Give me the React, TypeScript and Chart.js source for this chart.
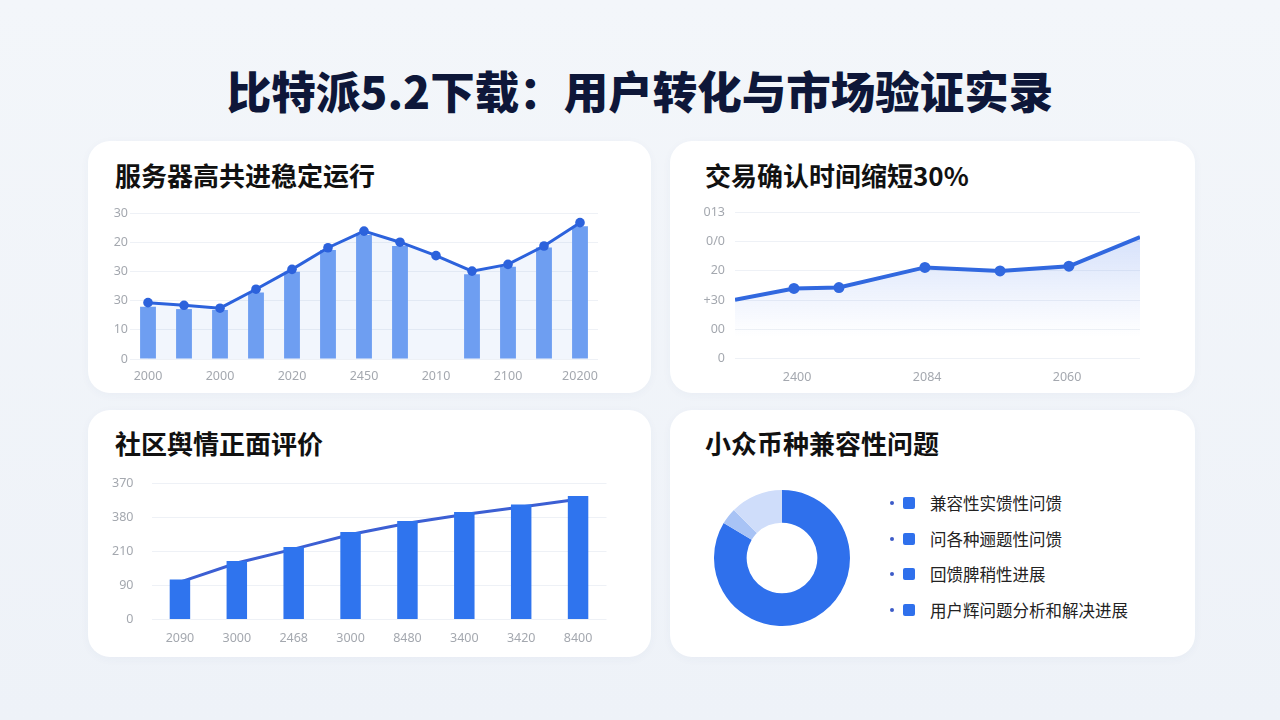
import React, { useEffect, useRef } from "react";
import { Chart, registerables } from "chart.js";

Chart.register(...registerables);

// ---------- Data ----------
const pageTitle = "比特派5.2下载：用户转化与市场验证实录";

// Panel 1
const serverTitle = "服务器高共进稳定运行";
const serverCategories = ["2000", "", "2000", "", "2020", "", "2450", "", "2010", "", "2100", "", "20200"];
const serverBars = [17.9, 17.1, 16.8, 22.8, 29.9, 37.3, 42.5, 38.7, null, 29.0, 31.6, 38.2, 45.5];
const serverLine = [19.3, 18.4, 17.4, 23.9, 30.7, 38.1, 43.8, 40.0, 35.4, 30.1, 32.4, 38.7, 46.7];
const serverYTickLabels = ["0", "10", "30", "30", "20", "30"];

// Panel 2
const confirmTitle = "交易确认时间缩短30%";
const confirmX = [0, 1.31, 2.31, 4.22, 5.89, 7.42, 9];
const confirmY = [20.1, 24.0, 24.3, 31.2, 30.0, 31.6, 41.6];
const confirmMarkers = [0, 5.5, 5.5, 5.5, 5.5, 5.5, 0];
const confirmXTickValues = [1.38, 4.27, 7.38];
const confirmXTickLabels = ["2400", "2084", "2060"];
const confirmYTickLabels = ["0", "00", "+30", "20", "0/0", "013"];

// Panel 3
const sentimentTitle = "社区舆情正面评价";
const sentimentCategories = ["2090", "3000", "2468", "3000", "8480", "3400", "3420", "8400"];
const sentimentBars = [117.6, 172.4, 213.5, 257.6, 290, 316.5, 338.2, 363.5];
const sentimentLine = [110, 166, 207, 250, 283, 309, 331, 354];
const sentimentYTickLabels = ["0", "90", "210", "380", "370"];

// Panel 4
const compatTitle = "小众币种兼容性问题";
const compatLabels = ["兼容性实馈性问馈", "问各种逦题性问馈", "回馈脾稍性进展", "用户辉问题分析和解决进展"];
const compatValues = [83.6, 3.9, 12.5, 0];
const compatColors = ["#2f70ec", "#a8c3f5", "#cfddfa", "#2f70ec"];

// ---------- Styles ----------
const CJK = "'Noto Sans CJK SC', 'Noto Sans', sans-serif";
const tickFont = { family: "'Noto Sans', 'DejaVu Sans', sans-serif", size: 12.5 };
const tickColor = "#a4a8af";
const gridColor = "#eef1f6";

function ChartBox({ style, config }: { style: React.CSSProperties; config: () => any }) {
  const ref = useRef<HTMLCanvasElement>(null);
  useEffect(() => {
    const chart = new Chart(ref.current as HTMLCanvasElement, config());
    return () => chart.destroy();
  }, []);
  return (
    <div style={{ position: "absolute", ...style }}>
      <canvas ref={ref} />
    </div>
  );
}

const baseOptions = (padding: any) => ({
  animation: false,
  responsive: true,
  maintainAspectRatio: false,
  layout: { padding },
  plugins: {
    legend: { display: false },
    tooltip: { enabled: false },
    filler: { drawTime: "beforeDatasetsDraw" },
  },
});

const serverConfig = () => ({
  type: "bar",
  data: {
    labels: serverCategories,
    datasets: [
      {
        type: "line",
        data: serverLine,
        borderColor: "#2c62dc",
        borderWidth: 3,
        pointRadius: 4.8,
        pointBackgroundColor: "#2c62dc",
        pointBorderWidth: 0,
        fill: "origin",
        backgroundColor: "rgba(90,140,235,0.08)",
        tension: 0,
        order: 0,
      },
      {
        type: "bar",
        data: serverBars,
        backgroundColor: "#6e9ef1",
        barPercentage: 1,
        categoryPercentage: 0.44,
        order: 1,
      },
    ],
  },
  options: {
    ...baseOptions({ top: 13, right: 52, left: 0, bottom: 0 }),
    scales: {
      x: {
        grid: { display: false },
        border: { display: false },
        ticks: { color: tickColor, font: tickFont, padding: 2, maxRotation: 0, autoSkip: false },
        afterFit: (s: any) => { s.height = 30; },
      },
      y: {
        min: 0,
        max: 50,
        ticks: {
          stepSize: 10,
          color: tickColor,
          font: tickFont,
          padding: 2,
          callback: (v: number) => serverYTickLabels[Math.round(v / 10)],
        },
        grid: { color: gridColor, drawTicks: false },
        border: { display: false },
        afterFit: (s: any) => { s.width = 42; },
      },
    },
  },
});

const confirmConfig = () => ({
  type: "line",
  data: {
    datasets: [
      {
        data: confirmX.map((x, i) => ({ x, y: confirmY[i] })),
        borderColor: "#3168df",
        borderWidth: 4,
        pointRadius: confirmMarkers,
        pointBackgroundColor: "#3168df",
        pointBorderWidth: 0,
        tension: 0,
        fill: "origin",
        backgroundColor: (ctx: any) => {
          const chart = ctx.chart;
          const area = chart.chartArea;
          if (!area) return "rgba(70,120,235,0.15)";
          const g = chart.ctx.createLinearGradient(0, area.top, 0, area.bottom);
          g.addColorStop(0, "rgba(70,120,235,0.28)");
          g.addColorStop(0.55, "rgba(70,120,235,0.09)");
          g.addColorStop(0.85, "rgba(70,120,235,0)");
          return g;
        },
      },
    ],
  },
  options: {
    ...baseOptions({ top: 0, right: 55, left: 0, bottom: 0 }),
    scales: {
      x: {
        type: "linear",
        min: 0,
        max: 9,
        grid: { display: false },
        border: { display: false },
        afterBuildTicks: (s: any) => { s.ticks = confirmXTickValues.map((v) => ({ value: v })); },
        ticks: {
          color: tickColor,
          font: tickFont,
          padding: 3,
          maxRotation: 0,
          autoSkip: false,
          callback: (_v: number, i: number) => confirmXTickLabels[i],
        },
        afterFit: (s: any) => { s.height = 30; },
      },
      y: {
        min: 0,
        max: 50,
        ticks: {
          stepSize: 10,
          color: tickColor,
          font: tickFont,
          padding: 10,
          callback: (v: number) => confirmYTickLabels[Math.round(v / 10)],
        },
        grid: { color: gridColor, drawTicks: false },
        border: { display: false },
        afterFit: (s: any) => { s.width = 65; },
      },
    },
  },
});

const sentimentConfig = () => ({
  type: "bar",
  data: {
    labels: sentimentCategories,
    datasets: [
      {
        type: "line",
        data: sentimentLine,
        borderColor: "#3c5fd3",
        borderWidth: 3,
        pointRadius: 0,
        tension: 0,
        order: 2,
      },
      {
        type: "bar",
        data: sentimentBars,
        backgroundColor: "#2f74ee",
        barPercentage: 1,
        categoryPercentage: 0.36,
        order: 1,
      },
    ],
  },
  options: {
    ...baseOptions({ top: 0, right: 43.5, left: 0, bottom: 0 }),
    scales: {
      x: {
        grid: { display: false },
        border: { display: false },
        ticks: { color: tickColor, font: tickFont, padding: 3, maxRotation: 0, autoSkip: false },
        afterFit: (s: any) => { s.height = 30; },
      },
      y: {
        min: 0,
        max: 400,
        ticks: {
          stepSize: 100,
          color: tickColor,
          font: tickFont,
          padding: 18,
          callback: (v: number) => sentimentYTickLabels[Math.round(v / 100)],
        },
        grid: { color: gridColor, drawTicks: false },
        border: { display: false },
        afterFit: (s: any) => { s.width = 63.5; },
      },
    },
  },
});

const compatConfig = () => ({
  type: "doughnut",
  data: {
    labels: compatLabels,
    datasets: [
      {
        data: compatValues,
        backgroundColor: compatColors,
        borderWidth: 0,
      },
    ],
  },
  options: {
    ...baseOptions(0),
    cutout: "52%",
  },
});

const cardStyle: React.CSSProperties = {
  position: "absolute",
  background: "#ffffff",
  borderRadius: 22,
  boxShadow: "0 2px 10px rgba(40,70,130,0.04)",
};

const panelTitle = (text: string, left: number, cy: number) => (
  <div
    style={{
      position: "absolute",
      left,
      top: cy - 18,
      height: 36,
      lineHeight: "36px",
      fontFamily: CJK,
      fontWeight: 700,
      fontSize: 26,
      color: "#111111",
      whiteSpace: "nowrap",
    }}
  >
    {text}
  </div>
);

export default function App() {
  return (
    <div
      style={{
        position: "fixed",
        left: 0,
        top: 0,
        width: 1280,
        height: 720,
        background: "linear-gradient(180deg, #f3f6fa 0%, #eef2f8 100%)",
        overflow: "hidden",
      }}
    >
      <div
        style={{
          position: "absolute",
          left: 0,
          width: 1280,
          top: 60,
          height: 60,
          lineHeight: "60px",
          textAlign: "center",
          fontFamily: CJK,
          fontWeight: 900,
          fontSize: 44.5,
          color: "#0e1739",
          whiteSpace: "nowrap",
        }}
      >
        {pageTitle}
      </div>

      <div style={{ ...cardStyle, left: 88, top: 141, width: 563, height: 252 }} />
      <div style={{ ...cardStyle, left: 670, top: 141, width: 525, height: 252 }} />
      <div style={{ ...cardStyle, left: 88, top: 410, width: 563, height: 247 }} />
      <div style={{ ...cardStyle, left: 670, top: 410, width: 525, height: 247 }} />

      {panelTitle(serverTitle, 115, 175)}
      {panelTitle(confirmTitle, 705, 175)}
      {panelTitle(sentimentTitle, 115, 443)}
      {panelTitle(compatTitle, 705, 443)}

      <ChartBox style={{ left: 88, top: 200, width: 562, height: 189 }} config={serverConfig} />
      <ChartBox style={{ left: 670, top: 194.5, width: 525, height: 193.5 }} config={confirmConfig} />
      <ChartBox style={{ left: 88, top: 457.5, width: 562, height: 191.5 }} config={sentimentConfig} />
      <ChartBox style={{ left: 714, top: 490, width: 136, height: 136 }} config={compatConfig} />

      {compatLabels.map((label, i) => (
        <div
          key={i}
          style={{
            position: "absolute",
            left: 884,
            top: 503 + i * 35.6 - 12,
            height: 24,
            display: "flex",
            alignItems: "center",
            whiteSpace: "nowrap",
          }}
        >
          <span style={{ width: 4, height: 4, borderRadius: 2, background: "#3d5bc8", marginLeft: 6 }} />
          <span style={{ width: 12, height: 12, borderRadius: 2, background: "#2f70ec", marginLeft: 9 }} />
          <span
            style={{
              marginLeft: 15,
              fontFamily: CJK,
              fontSize: 16.5,
              color: "#222222",
            }}
          >
            {label}
          </span>
        </div>
      ))}
    </div>
  );
}
